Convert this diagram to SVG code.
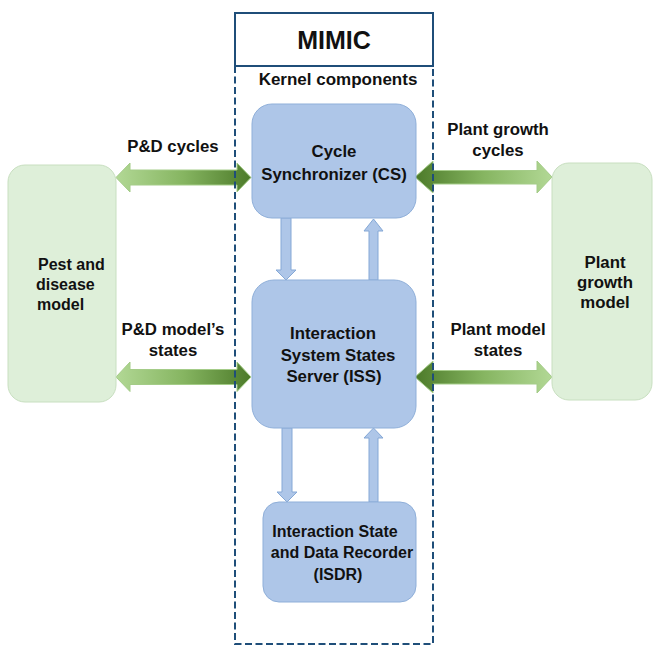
<svg xmlns="http://www.w3.org/2000/svg" width="653" height="646" viewBox="0 0 653 646">
<defs>
<linearGradient id="gLR" x1="0" y1="0" x2="1" y2="0">
<stop offset="0" stop-color="#B2D895"/>
<stop offset="0.5" stop-color="#86B561"/>
<stop offset="1" stop-color="#4C7A29"/>
</linearGradient>
<linearGradient id="gRL" x1="1" y1="0" x2="0" y2="0">
<stop offset="0" stop-color="#B2D895"/>
<stop offset="0.5" stop-color="#86B561"/>
<stop offset="1" stop-color="#4C7A29"/>
</linearGradient>
</defs>
<style>
text{font-family:"Liberation Sans",Arial,sans-serif;font-weight:bold;fill:#111;}
.lbl{font-size:16.8px;text-anchor:middle;}
.sm{font-size:16px;text-anchor:middle;}
.kern{fill:#AEC6E8;stroke:#8FAFD9;stroke-width:1;}
.model{fill:#DEEFD9;stroke:#C8DFC0;stroke-width:1;}
.harrow{stroke:#A4CC88;stroke-width:1;}
.varrow{fill:#AEC6E8;stroke:#85A8D6;stroke-width:1;}
.navy{fill:none;stroke:#1F4E79;stroke-width:2;}
</style>
<rect width="653" height="646" fill="#fff"/>

<g id="connectors">
<path class="harrow" fill="url(#gLR)" d="M116 177.5 L130 163 L130 170 L237 170 L237 163 L251 177.5 L237 192 L237 185 L130 185 L130 192 Z"/>
<path class="harrow" fill="url(#gRL)" d="M415 177 L433 161 L433 170.5 L537 170.5 L537 161 L552 177 L537 193 L537 184 L433 184 L433 193 Z"/>
<path class="harrow" fill="url(#gLR)" d="M116 377 L130 362 L130 369.5 L237 369.5 L237 362 L251 377 L237 391.5 L237 384.5 L130 384.5 L130 391.5 Z"/>
<path class="harrow" fill="url(#gRL)" d="M415 377 L433 361 L433 370.5 L537 370.5 L537 361 L552 377 L537 393 L537 384 L433 384 L433 393 Z"/>
<path class="varrow" d="M281 218 L291 218 L291 270 L296 270 L286 280 L276 270 L281 270 Z"/>
<path class="varrow" d="M373.5 219 L383 231 L378 231 L378 280 L369 280 L369 231 L364 231 Z"/>
<path class="varrow" d="M282 428 L292 428 L292 492 L297 492 L287 502 L277 492 L282 492 Z"/>
<path class="varrow" d="M373.5 428 L383 438 L378 438 L378 502 L369 502 L369 438 L364 438 Z"/>
<text class="lbl" x="173" y="152">P&amp;D cycles</text>
<text class="lbl" x="498" y="135">Plant growth</text>
<text class="lbl" x="498" y="156">cycles</text>
<text class="lbl" x="173" y="335">P&amp;D model’s</text>
<text class="lbl" x="173" y="356">states</text>
<text class="lbl" x="498" y="335">Plant model</text>
<text class="lbl" x="498" y="356">states</text>
</g>

<g id="mimic">
<rect class="navy" x="235" y="13" width="198" height="53"/>
<text x="334" y="49" font-size="25" text-anchor="middle">MIMIC</text>
<path class="navy" stroke-dasharray="7 3.5" d="M235 66 L235 644 L433 644 L433 66"/>
<text x="338" y="85" font-size="17" text-anchor="middle">Kernel components</text>
</g>

<g id="cs">
<rect class="kern" x="252" y="104" width="164" height="114" rx="20"/>
<text class="lbl" x="334" y="157">Cycle</text>
<text class="lbl" x="334" y="180">Synchronizer (CS)</text>
</g>

<g id="iss">
<rect class="kern" x="252" y="280" width="164" height="148" rx="22"/>
<text class="lbl" x="333" y="339">Interaction</text>
<text class="lbl" x="338" y="361">System States</text>
<text class="lbl" x="334" y="382">Server (ISS)</text>
</g>

<g id="isdr">
<rect class="kern" x="263" y="502" width="153" height="100" rx="16"/>
<text class="sm" x="335" y="537">Interaction State</text>
<text class="sm" x="342" y="558">and Data Recorder</text>
<text class="sm" x="338" y="580">(ISDR)</text>
</g>

<g id="pest">
<rect class="model" x="8" y="165" width="108" height="237" rx="17"/>
<text x="38" y="270" font-size="16">Pest and</text>
<text x="36" y="290" font-size="16">disease</text>
<text x="37" y="310" font-size="16">model</text>
</g>

<g id="plant">
<rect class="model" x="552" y="163" width="100" height="237" rx="17"/>
<text class="lbl" x="605" y="268">Plant</text>
<text class="lbl" x="605" y="288">growth</text>
<text class="lbl" x="605" y="308">model</text>
</g>
</svg>
